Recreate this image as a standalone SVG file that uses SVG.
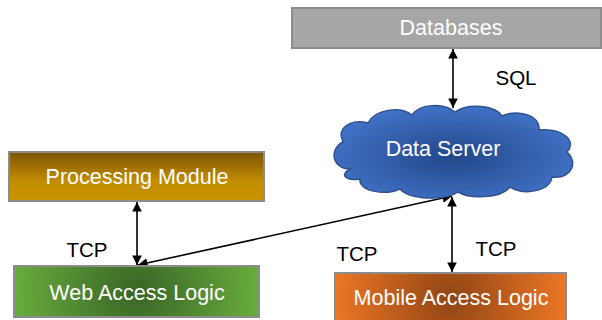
<svg xmlns="http://www.w3.org/2000/svg" width="602" height="320" viewBox="0 0 602 320">
<defs>
<style>
.box{stroke:#8c8c8c;stroke-width:2}
.lbl{font-family:"Liberation Sans",Arial,sans-serif;font-size:21.5px;fill:#ffffff;text-anchor:middle;dominant-baseline:central}
.tx{font-family:"Liberation Sans",Arial,sans-serif;font-size:20.5px;fill:#000000;text-anchor:middle;dominant-baseline:central}
.con{stroke:#000;stroke-width:1.6;fill:none;marker-start:url(#ah);marker-end:url(#ah)}
</style>
<marker id="ah" viewBox="0 0 10 10" refX="10" refY="5" markerWidth="6" markerHeight="6" orient="auto-start-reverse">
<path d="M0,0 L10,5 L0,10 Z" fill="#000"/>
</marker>
<linearGradient id="gProc" x1="0" y1="0" x2="0" y2="1">
<stop offset="0" stop-color="#7a5404"/>
<stop offset="0.6" stop-color="#c38d02"/>
<stop offset="1" stop-color="#c99300"/>
</linearGradient>
<radialGradient id="gWeb" cx="0.5" cy="0.5" r="0.55" gradientTransform="translate(0.5 0.5) scale(1 4.7) translate(-0.5 -0.5)">
<stop offset="0" stop-color="#386526"/>
<stop offset="1" stop-color="#6db33f"/>
</radialGradient>
<radialGradient id="gMob" cx="0.5" cy="0.5" r="0.55" gradientTransform="translate(0.5 0.5) scale(1 4.8) translate(-0.5 -0.5)">
<stop offset="0" stop-color="#914514"/>
<stop offset="1" stop-color="#f47b26"/>
</radialGradient>
<radialGradient id="gCloud" cx="0.5" cy="0.55" r="0.6">
<stop offset="0" stop-color="#22478a"/>
<stop offset="1" stop-color="#4476cc"/>
</radialGradient>
</defs>
<g id="connectors">
<line class="con" x1="453" y1="49" x2="453" y2="108"/>
<line class="con" x1="137" y1="202" x2="137" y2="265"/>
<line class="con" x1="138" y1="265" x2="452" y2="196"/>
<line class="con" x1="452" y1="197" x2="452" y2="272"/>
</g>
<g id="databases">
<rect class="box" x="292" y="8" width="309" height="40" fill="#a6a6a6"/>
<text class="lbl" x="451" y="28">Databases</text>
</g>
<g id="data-server">
<path d="M350,169 C333,169 328,150 343,142 C336,127 352,119 368,123 C375,109 400,106 412,115 C420,103 445,103 455,112 C468,103 495,105 502,116 C517,109 541,115 539,130 C561,128 578,140 567,152 C579,163 571,179 552,177 C550,191 525,196 510,187 C500,199 470,199 458,192 C445,201 410,200 400,189 C385,196 358,191 360,179 C348,181 338,176 350,169 Z" fill="url(#gCloud)" stroke="#2f528f" stroke-width="1.5"/>
<text class="lbl" x="443" y="149">Data Server</text>
</g>
<g id="processing-module">
<rect class="box" x="9" y="152" width="255" height="49" fill="url(#gProc)"/>
<text class="lbl" x="137" y="177">Processing Module</text>
</g>
<g id="web-access-logic">
<rect class="box" x="14" y="266" width="245" height="51" fill="url(#gWeb)"/>
<text class="lbl" x="137" y="293">Web Access Logic</text>
</g>
<g id="mobile-access-logic">
<rect class="box" x="335" y="273" width="231" height="50" fill="url(#gMob)"/>
<text class="lbl" x="451" y="298">Mobile Access Logic</text>
</g>
<g id="labels">
<text class="tx" x="516" y="77">SQL</text>
<text class="tx" x="87" y="249">TCP</text>
<text class="tx" x="357" y="253">TCP</text>
<text class="tx" x="496" y="248">TCP</text>
</g>
</svg>
